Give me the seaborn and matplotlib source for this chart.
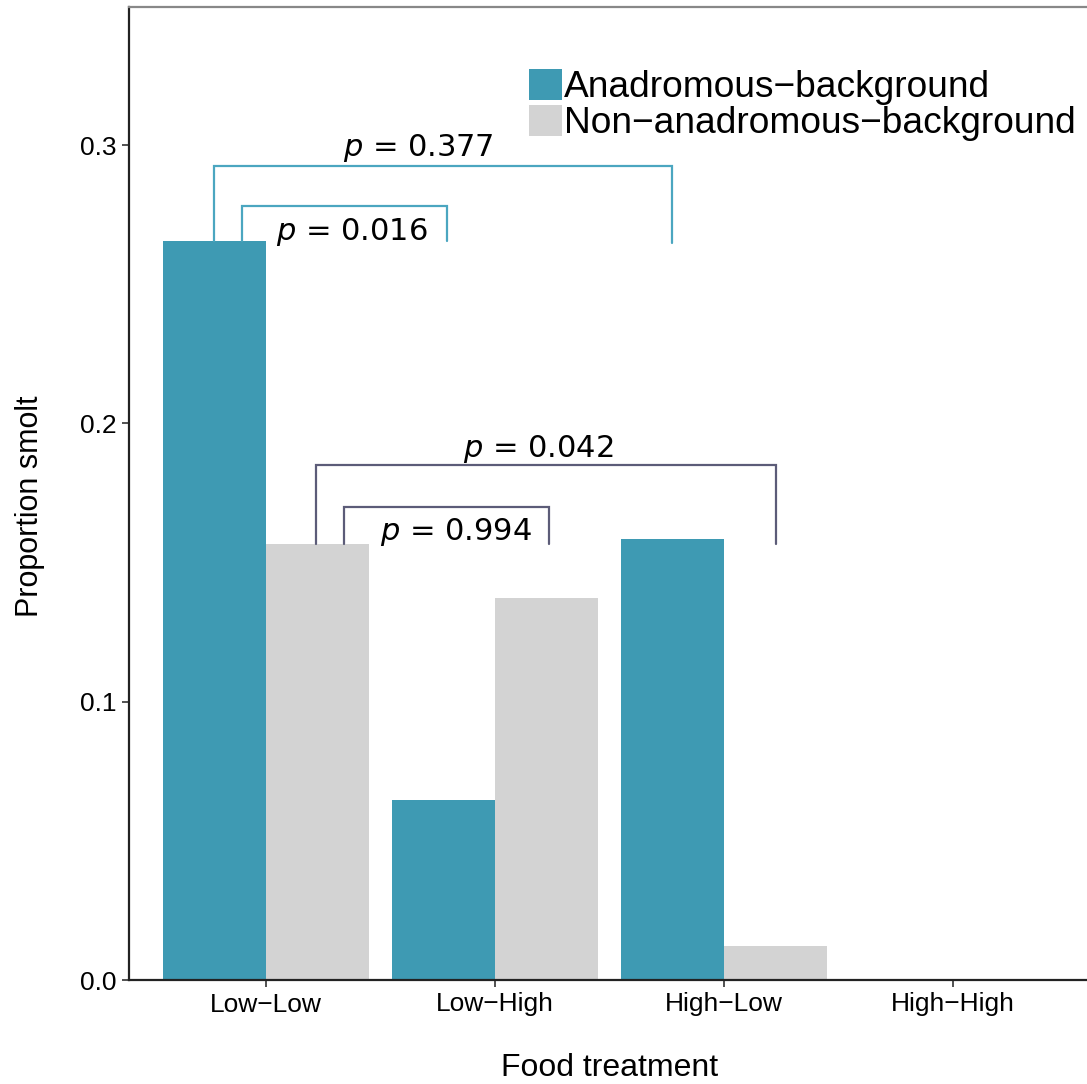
import matplotlib
matplotlib.use("Agg")
import matplotlib.pyplot as plt
import seaborn as sns
import pandas as pd
import numpy as np
from matplotlib.patches import Patch

# ---- data ----
treatments = ["Low\u2212Low", "Low\u2212High", "High\u2212Low", "High\u2212High"]
backgrounds = ["Anadromous\u2212background", "Non\u2212anadromous\u2212background"]
anadromous = [0.2655, 0.0645, 0.1586, 0.0]
non_anadromous = [0.1568, 0.1374, 0.0122, 0.0]
yticks = [0.0, 0.1, 0.2, 0.3]
ytick_labels = ["0.0", "0.1", "0.2", "0.3"]
p_labels = ["0.377", "0.016", "0.042", "0.994"]

colors = {"Anadromous\u2212background": "#3E9AB3",
          "Non\u2212anadromous\u2212background": "#D3D3D3"}

df = pd.DataFrame({
    "treatment": treatments * 2,
    "background": [backgrounds[0]] * 4 + [backgrounds[1]] * 4,
    "prop": anadromous + non_anadromous,
})

sns.set_theme(style="white")
plt.rcParams["font.family"] = ["Liberation Sans", "DejaVu Sans"]

fig = plt.figure(figsize=(10.87, 10.84), dpi=100)
ax = fig.add_axes([129 / 1087, 1 - 980 / 1084, 1 - 129 / 1087, (980 - 7) / 1084])

sns.barplot(data=df, x="treatment", y="prop", hue="background",
            order=treatments, hue_order=backgrounds, palette=colors,
            width=0.9, gap=0, saturation=1, errorbar=None, ax=ax,
            linewidth=0, legend=False)

ax.set_xlim(-0.598, 3.585)
ax.set_ylim(0, 0.3496)
ax.set_yticks(yticks)
ax.set_yticklabels(ytick_labels)

for s in ["left", "bottom"]:
    ax.spines[s].set_color("#222222")
    ax.spines[s].set_linewidth(1.6)
ax.spines["top"].set_color("#888888")
ax.spines["top"].set_linewidth(1.6)
ax.spines["right"].set_visible(False)

ax.tick_params(axis="both", which="both", length=5, width=1.2, color="#333333",
               labelsize=19, labelcolor="black", pad=4, bottom=True, left=True)
ax.set_xlabel("Food treatment", fontsize=23, color="black")
ax.set_ylabel("Proportion smolt", fontsize=22, color="black")
ax.xaxis.set_label_coords(0.502, -0.09)
ax.yaxis.set_label_coords(-0.103, 0.487)
ax.xaxis.label.set_va("center")
ax.yaxis.label.set_va("center")

# ---- significance brackets ----
hw = 0.225  # half of one bar width
teal_line = "#4BA6C0"
dark_line = "#5C5C78"
brackets = [
    # label, x1, x2, ytop, yleg1, yleg2, tx, ty, color
    (p_labels[0], 0 - hw, 2 - hw, 0.2924, anadromous[0], anadromous[0] - 0.0008, 0.664, 0.2962, teal_line),
    (p_labels[1], 0 - 0.105, 1 - 0.21, 0.2780, anadromous[0], anadromous[0], 0.375, 0.2660, teal_line),
    (p_labels[2], 0 + hw - 0.007, 2 + hw, 0.1849, non_anadromous[0], non_anadromous[0], 1.188, 0.1880, dark_line),
    (p_labels[3], 0 + 0.34, 1 + hw + 0.011, 0.1698, non_anadromous[0], non_anadromous[0], 0.83, 0.1582, dark_line),
]
for lab, x1, x2, yt, y1, y2, tx, ty, c in brackets:
    ax.plot([x1, x1, x2, x2], [y1, yt, yt, y2], color=c, lw=1.6,
            solid_joinstyle="miter", clip_on=False, zorder=3)
    ax.text(tx, ty, r"$\it{p}$ = " + lab, ha="center", va="baseline",
            fontsize=22, family="DejaVu Sans", color="black", zorder=4)

# ---- legend ----
handles = [Patch(facecolor=colors[b], edgecolor="none") for b in backgrounds]
fig.legend(handles, backgrounds, loc="upper left",
           bbox_to_anchor=(529 / 1087, 1 - 69 / 1084), frameon=False,
           fontsize=26.7, handlelength=0.9, handleheight=0.9,
           handletextpad=0.05, labelspacing=0.0, borderpad=0, borderaxespad=0,
           labelcolor="black")

fig.savefig("out.png", dpi=100)
